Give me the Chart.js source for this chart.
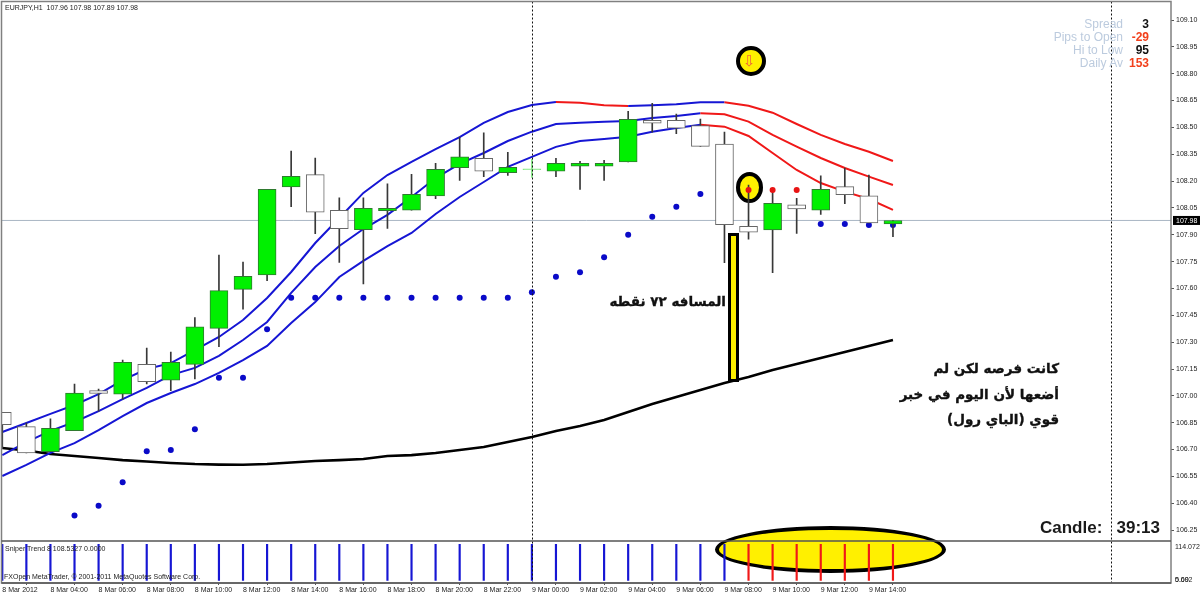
<!DOCTYPE html>
<html lang="en">
<head>
<meta charset="utf-8">
<title>EURJPY H1</title>
<script src="https://cdn.jsdelivr.net/npm/chart.js@4/dist/chart.umd.min.js"></script>
<style>
    html, body { margin: 0; padding: 0; background: #fff; }
    #wrap { position: relative; width: 1200px; height: 596px; overflow: hidden; font-family: "Liberation Sans", sans-serif; }
    #chart { position: absolute; left: 0; top: 0; z-index: 1; }
    /* yellow shapes sit under the transparent canvas, text sits over it */
    .mark { position: absolute; box-sizing: border-box; background: #fff000; border: 4.5px solid #000; z-index: 0; }
    .round { border-radius: 50%; }
    .note { position: absolute; z-index: 2; white-space: pre; line-height: 1; }
    .small { font-size: 7px; color: #222; }
    .stat { font-size: 12px; text-align: right; width: 100px; left: 1023px; color: #bccbde; }
    .val { font-size: 12px; font-weight: bold; text-align: right; width: 40px; left: 1109px; color: #111; }
    .hot { color: #f2401c; }
    .ar { font-family: "DejaVu Sans", sans-serif; font-weight: bold; color: #111; direction: rtl; -webkit-text-stroke: 0.35px #111; }
</style>
</head>
<body>
<div id="wrap">
    <div class="mark round" style="left:715px;top:526px;width:231px;height:47px;"></div>
    <div class="mark round" style="left:736px;top:46px;width:30px;height:30px;"></div>
    <div class="mark round" style="left:736px;top:172px;width:27px;height:31px;"></div>
    <div class="mark" style="left:728px;top:233px;width:11px;height:149px;border-width:3px;"></div>

    <canvas id="chart" width="1200" height="596"></canvas>

    <div class="note" style="left:743px;top:52px;font:15px 'DejaVu Sans';color:#f0603c;">⇩</div>
    <div class="note small" style="left:5px;top:4px;">EURJPY,H1  107.96 107.98 107.89 107.98</div>
    <div class="note small" style="left:5px;top:545px;">Sniper Trend 8 108.5327 0.0000</div>
    <div class="note small" style="left:4px;top:573px;">FXOpen MetaTrader, © 2001-2011 MetaQuotes Software Corp.</div>

    <div class="note stat" style="top:18px;">Spread</div>
    <div class="note stat" style="top:31px;">Pips to Open</div>
    <div class="note stat" style="top:44px;">Hi to Low</div>
    <div class="note stat" style="top:57px;">Daily Av</div>
    <div class="note val" style="top:18px;">3</div>
    <div class="note val hot" style="top:31px;">-29</div>
    <div class="note val" style="top:44px;">95</div>
    <div class="note val hot" style="top:57px;">153</div>

    <div class="note" style="left:1040px;top:519px;font-size:17px;font-weight:bold;color:#1a1a1a;">Candle:   39:13</div>

    <div class="note ar" style="right:474px;top:295px;font-size:13.5px;">المسافه ٧٢ نقطه</div>
    <div class="note ar" style="right:141px;top:362px;font-size:13.5px;">كانت فرصه لكن لم</div>
    <div class="note ar" style="right:141px;top:388px;font-size:13.5px;">أضعها لأن اليوم في خبر</div>
    <div class="note ar" style="right:141px;top:413px;font-size:13.5px;">قوي (الباي رول)</div>
</div>

<script>
// Candles, oldest first (8 Mar 02:00 is index 0, one candle per hour)
const opens  = [106.908,106.828,106.688,106.805,107.029,107.009,107.176,107.087,107.176,107.377,107.595,107.675,108.167,108.236,108.037,107.928,108.035,108.037,108.117,108.275,108.327,108.247,108.264,108.255,108.283,108.283,108.307,108.540,108.540,108.510,108.407,107.947,107.927,108.068,108.037,108.169,108.118,107.960];
const closes = [106.839,106.681,106.819,107.016,107.014,107.187,107.079,107.187,107.386,107.588,107.668,108.154,108.227,108.026,107.934,108.048,108.048,108.126,108.266,108.336,108.255,108.277,108.268,108.299,108.299,108.299,108.545,108.523,108.495,108.394,107.956,107.914,108.076,108.044,108.154,108.124,107.966,107.980];
const highs  = [106.908,106.848,106.871,107.066,107.038,107.200,107.267,107.245,107.437,107.787,107.748,108.154,108.368,108.329,108.106,108.106,108.185,108.238,108.299,108.446,108.469,108.361,108.322,108.327,108.311,108.316,108.590,108.635,108.575,108.547,108.474,108.178,108.150,108.104,108.229,108.273,108.234,107.980];
const lows   = [106.709,106.681,106.688,106.805,106.915,106.982,107.066,107.029,107.094,107.275,107.485,107.643,108.057,107.906,107.746,107.625,107.936,108.037,108.102,108.204,108.225,108.232,108.221,108.225,108.154,108.204,108.307,108.473,108.465,108.394,107.744,107.875,107.688,107.908,108.014,108.074,107.966,107.890];

// Envelope lines around the price
const upperBand = [106.798,106.848,106.899,106.949,107.010,107.088,107.150,107.183,107.256,107.329,107.424,107.547,107.692,107.854,107.994,108.134,108.234,108.307,108.379,108.446,108.525,108.586,108.625,108.642,108.638,108.624,108.620,108.624,108.629,108.640,108.640,108.621,108.582,108.519,108.458,108.407,108.364,108.312];
const midBand   = [106.669,106.742,106.804,106.854,106.915,106.982,107.044,107.116,107.156,107.223,107.312,107.413,107.575,107.720,107.837,107.932,108.011,108.111,108.217,108.296,108.357,108.424,108.476,108.519,108.526,108.532,108.536,108.553,108.564,108.579,108.573,108.532,108.458,108.392,108.329,108.273,108.225,108.178];
const lowerBand = [106.552,106.614,106.681,106.736,106.809,106.887,106.960,107.016,107.066,107.128,107.200,107.279,107.407,107.524,107.664,107.754,107.837,107.910,108.016,108.111,108.195,108.279,108.335,108.391,108.424,108.435,108.448,108.476,108.497,108.515,108.504,108.452,108.357,108.262,108.189,108.141,108.100,108.039];
const blackMa   = [106.709,106.695,106.675,106.664,106.653,106.641,106.633,106.625,106.619,106.616,106.615,106.619,106.628,106.636,106.641,106.647,106.664,106.669,106.681,106.697,106.714,106.742,106.770,106.804,106.832,106.865,106.910,106.954,106.994,107.033,107.072,107.105,107.144,107.178,107.211,107.245,107.279,107.312];

// Red stretches of the envelope lines, as [first, last] candle index
const upperRed = [[23, 26], [30, 37]];
const innerRed = [[29, 37]];

// Stop dots
const blueDots = [null,null,null,106.332,106.386,106.517,106.690,106.697,106.813,107.101,107.101,107.372,107.548,107.548,107.548,107.548,107.548,107.548,107.548,107.548,107.548,107.548,107.579,107.666,107.690,107.774,107.900,108.001,108.057,108.128,null,null,null,null,107.960,107.960,107.955,107.955];
const redDots  = [null,null,null,null,null,null,null,null,null,null,null,null,null,null,null,null,null,null,null,null,null,null,null,null,null,null,null,null,null,null,null,108.150,108.150,108.150,null,null,null,null];

// Sniper Trend pane: blue to index 30, red after that
const trendUp   = [122,122,122,122,122,122,122,122,122,122,122,122,122,122,122,122,122,122,122,122,122,122,122,122,122,122,122,122,122,122,122,null,null,null,null,null,null,null];
const trendDown = [null,null,null,null,null,null,null,null,null,null,null,null,null,null,null,null,null,null,null,null,null,null,null,null,null,null,null,null,null,null,null,122,122,122,122,122,122,122];

const priceTicks = [109.10,108.95,108.80,108.65,108.50,108.35,108.20,108.05,107.90,107.75,107.60,107.45,107.30,107.15,107.00,106.85,106.70,106.55,106.40,106.25];
const trendTicks = [114.072, 0, 0.01];
const trendTickLabels = ["114.072", "5.692", "0.00"];
const timeTicks = [0,2,4,6,8,10,12,14,16,18,20,22,24,26,28,30,32,34,36];
const timeLabels = ["8 Mar 2012","8 Mar 04:00","8 Mar 06:00","8 Mar 08:00","8 Mar 10:00","8 Mar 12:00","8 Mar 14:00","8 Mar 16:00","8 Mar 18:00","8 Mar 20:00","8 Mar 22:00","9 Mar 00:00","9 Mar 02:00","9 Mar 04:00","9 Mar 06:00","9 Mar 08:00","9 Mar 10:00","9 Mar 12:00","9 Mar 14:00"];

const daySeparators = [22, 46.05];
const lastPrice = 107.98;

const xMin = -0.033, xMax = 48.55;
const BLUE = "#1616d4", RED = "#f01818", GREEN = "#00f000", DOJI = "#86ea86";

const tickFont = { family: "'Liberation Sans', sans-serif", size: 7 };
const toPoints = (arr) => arr.map((y, i) => ({ x: i, y }));
const isDoji = (i) => Math.abs(closes[i] - opens[i]) < 0.006;
const isUp = (i) => closes[i] >= opens[i];

// keep the plot area where the reference has it, labels may hang over
const noScalePadding = (axis) => {
    axis.paddingTop = axis.paddingBottom = axis.paddingLeft = axis.paddingRight = 0;
};

// line colour per segment from the red ranges above
const bandSegment = (ranges) => ({
    borderColor: (ctx) => ranges.some(([a, b]) => ctx.p0DataIndex >= a && ctx.p1DataIndex <= b) ? RED : BLUE
});

const bandLine = (data, ranges) => ({
    type: "line",
    data: toPoints(data),
    borderColor: BLUE,
    borderWidth: 2,
    pointRadius: 0,
    segment: bandSegment(ranges),
    order: 5
});

const dots = (data, color, order) => ({
    type: "line",
    data: toPoints(data),
    showLine: false,
    pointRadius: 3,
    pointBackgroundColor: color,
    pointBorderWidth: 0,
    order
});

// frame, day separators and the last price box on the axis
const paneFrame = {
    id: "paneFrame",
    afterDatasetsDraw(chart) {
        const { ctx, chartArea, scales } = chart;
        ctx.save();
        ctx.strokeStyle = "#111";
        ctx.lineWidth = 1;
        ctx.setLineDash([2, 2]);
        daySeparators.forEach((d) => {
            const px = Math.round(scales.x.getPixelForValue(d)) + 0.5;
            ctx.beginPath();
            ctx.moveTo(px, chartArea.top);
            ctx.lineTo(px, chartArea.bottom);
            ctx.stroke();
        });
        ctx.setLineDash([]);

        ctx.strokeStyle = "#808080";
        ctx.lineWidth = 1.5;
        ctx.strokeRect(chartArea.left, chartArea.top, chartArea.width, chartArea.height);
        ctx.strokeStyle = "#555";
        ctx.beginPath();
        ctx.moveTo(chartArea.left, scales.yTrend.top);
        ctx.lineTo(chartArea.right, scales.yTrend.top);
        ctx.moveTo(chartArea.left, chartArea.bottom);
        ctx.lineTo(chartArea.right, chartArea.bottom);
        ctx.stroke();

        const py = scales.y.getPixelForValue(lastPrice);
        ctx.fillStyle = "#000";
        ctx.fillRect(chartArea.right + 2, py - 4.5, 1200 - chartArea.right - 2, 9);
        ctx.fillStyle = "#fff";
        ctx.font = "7px 'Liberation Sans'";
        ctx.textBaseline = "middle";
        ctx.fillText(lastPrice.toFixed(2), chartArea.right + 5, py + 0.5);
        ctx.restore();
    }
};

new Chart(document.getElementById("chart"), {
    type: "bar",
    data: {
        datasets: [
            {
                label: "Wicks",
                data: lows.map((l, i) => ({ x: i, y: [l, highs[i]] })),
                backgroundColor: lows.map((l, i) => isDoji(i) ? DOJI : "#383838"),
                borderWidth: 0,
                barThickness: 1,
                grouped: false,
                order: 3
            },
            {
                label: "Bodies",
                data: opens.map((o, i) => ({ x: i, y: [o, closes[i]] })),
                backgroundColor: opens.map((o, i) => isDoji(i) ? DOJI : (isUp(i) ? GREEN : "#fff")),
                borderColor: opens.map((o, i) => isDoji(i) ? DOJI : (isUp(i) ? "#2f7a2f" : "#666")),
                borderWidth: 1,
                borderSkipped: false,
                barThickness: 18,
                grouped: false,
                order: 1
            },
            dots(redDots, "#e81414", 2),
            dots(blueDots, "#0a0ac8", 4),
            bandLine(upperBand, upperRed),
            bandLine(midBand, innerRed),
            bandLine(lowerBand, innerRed),
            {
                type: "line",
                data: toPoints(blackMa),
                borderColor: "#000",
                borderWidth: 2.6,
                pointRadius: 0,
                order: 6
            },
            {
                type: "line",
                data: [{ x: xMin, y: lastPrice }, { x: xMax, y: lastPrice }],
                borderColor: "#a9b6c4",
                borderWidth: 1,
                pointRadius: 0,
                order: 7
            },
            {
                label: "Sniper up",
                data: toPoints(trendUp),
                yAxisID: "yTrend",
                backgroundColor: BLUE,
                barThickness: 1.5,
                grouped: false,
                order: 8
            },
            {
                label: "Sniper down",
                data: toPoints(trendDown),
                yAxisID: "yTrend",
                backgroundColor: RED,
                barThickness: 1.5,
                grouped: false,
                order: 8
            }
        ]
    },
    plugins: [paneFrame],
    options: {
        responsive: false,
        animation: false,
        layout: { autoPadding: false, padding: { top: 1.5, left: 1.5, right: 0, bottom: 0 } },
        plugins: { legend: { display: false }, tooltip: { enabled: false } },
        scales: {
            x: {
                type: "linear",
                min: xMin,
                max: xMax,
                offset: false,
                grid: { drawOnChartArea: false, tickLength: 2, tickColor: "#555" },
                border: { display: false },
                afterBuildTicks: (axis) => { axis.ticks = timeTicks.map((value) => ({ value })); },
                afterFit: (axis) => { axis.height = 13; noScalePadding(axis); },
                ticks: {
                    autoSkip: false,
                    maxRotation: 0,
                    align: "start",
                    padding: 1,
                    color: "#222",
                    font: tickFont,
                    callback: (v, i) => timeLabels[i]
                }
            },
            y: {
                position: "right",
                stack: "panes",
                stackWeight: 539.5,
                min: 106.189,
                max: 109.2034,
                grid: { drawOnChartArea: false, tickLength: 3, tickColor: "#555" },
                border: { display: false },
                afterBuildTicks: (axis) => { axis.ticks = priceTicks.map((value) => ({ value })); },
                afterFit: (axis) => { axis.width = 29; noScalePadding(axis); },
                ticks: {
                    autoSkip: false,
                    padding: 2,
                    color: "#222",
                    font: tickFont,
                    callback: (v) => v.toFixed(2)
                }
            },
            yTrend: {
                position: "right",
                stack: "panes",
                stackWeight: 42,
                min: -8.4,
                max: 133.3,
                grid: { display: false, drawTicks: false },
                border: { display: false },
                afterBuildTicks: (axis) => { axis.ticks = trendTicks.map((value) => ({ value })); },
                afterFit: (axis) => { axis.width = 29; noScalePadding(axis); },
                ticks: {
                    autoSkip: false,
                    padding: 4,
                    color: "#222",
                    font: tickFont,
                    callback: (v, i) => trendTickLabels[i]
                }
            }
        }
    }
});
</script>
</body>
</html>
